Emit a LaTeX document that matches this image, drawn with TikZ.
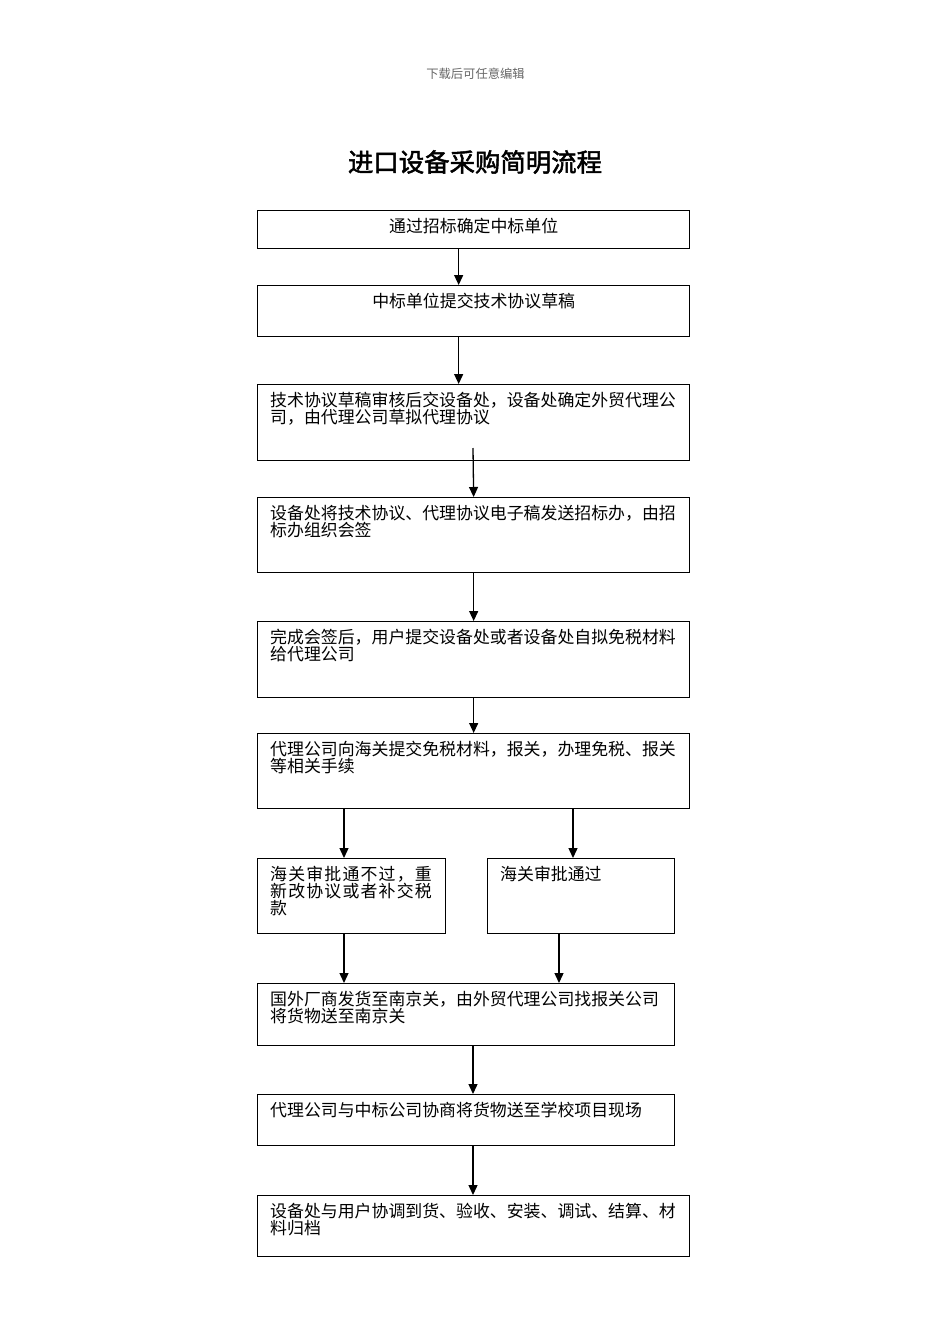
\documentclass[tikz,border=0pt]{standalone}
\usepackage{fontspec}
\setmainfont{Noto Sans CJK SC}
\newfontfamily\titlefont[FakeBold=2]{Noto Sans CJK SC}
\newfontfamily\widefont[LetterSpace=7]{Noto Sans CJK SC}
\newcommand\boxfont{\fontsize{16.9}{17}\selectfont\lineskiplimit=-20pt\relax}
\usetikzlibrary{arrows.meta}
\tikzset{
  box/.style={draw=black, line width=1.3pt, rectangle, inner sep=0pt, anchor=north west},
  txt/.style={inner sep=0pt, align=left, font=\boxfont},
  arr/.style={draw=black, line width=1.3pt, -{Triangle[length=10pt,width=9pt]}},
}
\begin{document}
\begin{tikzpicture}[x=1pt,y=-1pt]
\useasboundingbox (0,0) rectangle (950,1344);
% header and title
\node[inner sep=0pt, text=black!60, font=\fontsize{12.3}{13}\selectfont] (hdr) at (475.5,74) {下载后可任意编辑};
\node[inner sep=0pt, font=\titlefont\fontsize{25.4}{26}\selectfont] (title) at (475,162) {进口设备采购简明流程};
% boxes
\node[box, minimum width=432pt, minimum height=38pt] (b1) at (257,210) {};
\node[box, minimum width=432pt, minimum height=51pt] (b2) at (257,285) {};
\node[box, minimum width=432pt, minimum height=76pt] (b3) at (257,384) {};
\node[box, minimum width=432pt, minimum height=75pt] (b4) at (257,497) {};
\node[box, minimum width=432pt, minimum height=76pt] (b5) at (257,621) {};
\node[box, minimum width=432pt, minimum height=75pt] (b6) at (257,733) {};
\node[box, minimum width=188pt, minimum height=75pt] (b7a) at (257,858) {};
\node[box, minimum width=187pt, minimum height=75pt] (b7b) at (487,858) {};
\node[box, minimum width=417pt, minimum height=62pt] (b8) at (257,983) {};
\node[box, minimum width=417pt, minimum height=51pt] (b9) at (257,1094) {};
\node[box, minimum width=432pt, minimum height=61pt] (b10) at (257,1195) {};
% texts
\node[txt, anchor=north] (t1) at ([yshift=-8pt]b1.north) {通过招标确定中标单位};
\node[txt, anchor=north] (t2) at ([yshift=-8pt]b2.north) {中标单位提交技术协议草稿};
\node[txt, anchor=north west] (t3) at ([xshift=13pt,yshift=-8pt]b3.north west) {技术协议草稿审核后交设备处，设备处确定外贸代理公\\司，由代理公司草拟代理协议};
\node[txt, anchor=north west] (t4) at ([xshift=13pt,yshift=-8pt]b4.north west) {设备处将技术协议、代理协议电子稿发送招标办，由招\\标办组织会签};
\node[txt, anchor=north west] (t5) at ([xshift=13pt,yshift=-8pt]b5.north west) {完成会签后，用户提交设备处或者设备处自拟免税材料\\给代理公司};
\node[txt, anchor=north west] (t6) at ([xshift=13pt,yshift=-8pt]b6.north west) {代理公司向海关提交免税材料，报关，办理免税、报关\\等相关手续};
\node[txt, anchor=north west, font=\widefont\boxfont] (t7a) at ([xshift=13pt,yshift=-8pt]b7a.north west) {海关审批通不过，重\\新改协议或者补交税\\款};
\node[txt, anchor=north west] (t7b) at ([xshift=13pt,yshift=-8pt]b7b.north west) {海关审批通过};
\node[txt, anchor=north west] (t8) at ([xshift=13pt,yshift=-8pt]b8.north west) {国外厂商发货至南京关，由外贸代理公司找报关公司\\将货物送至南京关};
\node[txt, anchor=north west] (t9) at ([xshift=13pt,yshift=-8pt]b9.north west) {代理公司与中标公司协商将货物送至学校项目现场};
\node[txt, anchor=north west] (t10) at ([xshift=13pt,yshift=-8pt]b10.north west) {设备处与用户协调到货、验收、安装、调试、结算、材\\料归档};
% connectors
\coordinate (a3s) at (473,448);
\draw[arr] ([xshift=-15pt]b1.south) -- ([xshift=-15pt]b2.north);
\draw[arr] ([xshift=-15pt]b2.south) -- ([xshift=-15pt]b3.north);
\draw[arr] (a3s) -- (b4.north);
\draw[arr] (b4.south) -- (b5.north);
\draw[arr] (b5.south) -- (b6.north);
\draw[arr] ([xshift=87pt]b6.south west) -- ([xshift=87pt]b7a.north west);
\draw[arr] ([xshift=316pt]b6.south west) -- ([xshift=86pt]b7b.north west);
\draw[arr] ([xshift=87pt]b7a.south west) -- ([xshift=87pt]b8.south west |- b8.north);
\draw[arr] ([xshift=72pt]b7b.south west) -- ([xshift=72pt]b7b.south west |- b8.north);
\draw[arr] ([xshift=216pt]b8.south west) -- ([xshift=216pt]b9.north west);
\draw[arr] ([xshift=216pt]b9.south west) -- ([xshift=216pt]b10.north west);
\end{tikzpicture}
\end{document}
